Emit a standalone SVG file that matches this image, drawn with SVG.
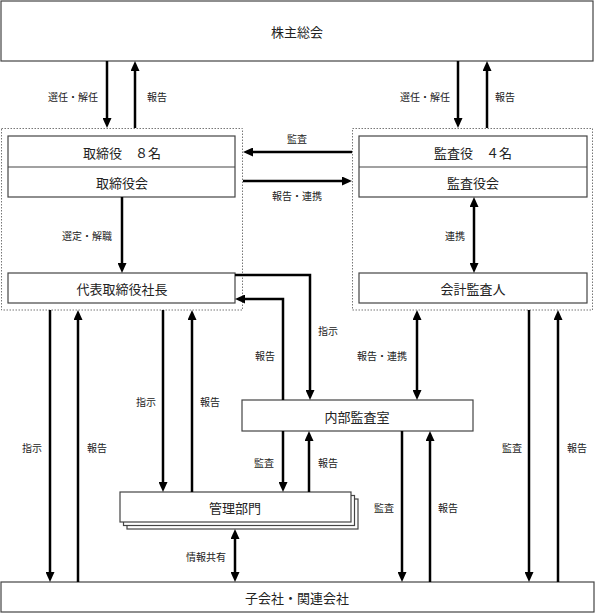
<svg xmlns="http://www.w3.org/2000/svg" width="595" height="613" viewBox="0 0 595 613">
<style>
.box{fill:#fff;stroke:#444;stroke-width:1.2}
.grp{fill:none;stroke:#777;stroke-width:1;stroke-dasharray:1.5,1.5}
.t{font-family:"Noto Sans CJK JP","Noto Sans CJK SC",sans-serif;font-size:13px;fill:#222;text-anchor:middle;dominant-baseline:central}
.s{font-family:"Noto Sans CJK JP","Noto Sans CJK SC",sans-serif;font-size:10px;fill:#222;text-anchor:middle;dominant-baseline:central}
.a{fill:none;stroke:#000;stroke-width:2.5;marker-end:url(#ah)}
.d{fill:none;stroke:#000;stroke-width:2.5;marker-end:url(#ah);marker-start:url(#ah)}
</style>
<defs>
<marker id="ah" markerUnits="userSpaceOnUse" viewBox="0 0 10 9" markerWidth="10" markerHeight="9" refX="3" refY="4.5" orient="auto-start-reverse">
<path d="M0,0 L10,4.5 L0,9 z" fill="#000"/>
</marker>
</defs>
<rect width="595" height="613" fill="#fff"/>

<g id="kabunushi">
<rect class="box" x="1" y="1" width="592" height="60"/>
<text class="t" x="297" y="31">株主総会</text>
</g>

<g id="torishimari-group">
<rect class="grp" x="1.5" y="128.5" width="241" height="181.5"/>
</g>
<g id="torishimari">
<rect class="box" x="8" y="136" width="227" height="61"/>
<line x1="8" y1="167" x2="235" y2="167" stroke="#444" stroke-width="1.2"/>
<text class="t" x="122" y="152">取締役　８名</text>
<text class="t" x="122" y="182">取締役会</text>
</g>
<g id="shacho">
<rect class="box" x="8" y="273" width="227" height="30"/>
<text class="t" x="122" y="288">代表取締役社長</text>
</g>

<g id="kansa-group">
<rect class="grp" x="352.5" y="128.5" width="240" height="181.5"/>
</g>
<g id="kansayaku">
<rect class="box" x="359" y="136" width="228" height="61"/>
<line x1="359" y1="167" x2="587" y2="167" stroke="#444" stroke-width="1.2"/>
<text class="t" x="473" y="152">監査役　４名</text>
<text class="t" x="473" y="182">監査役会</text>
</g>
<g id="kaikei">
<rect class="box" x="359" y="273" width="228" height="30"/>
<text class="t" x="473" y="288">会計監査人</text>
</g>

<g id="naibu">
<rect class="box" x="242" y="400" width="231" height="31"/>
<text class="t" x="357" y="416">内部監査室</text>
</g>

<g id="kanri">
<rect class="box" x="127" y="499" width="231" height="30"/>
<rect class="box" x="123.5" y="495.5" width="231" height="30"/>
<rect class="box" x="120" y="492" width="231" height="30"/>
<text class="t" x="235" y="507">管理部門</text>
</g>

<g id="kogaisha">
<rect class="box" x="1" y="582" width="593" height="30"/>
<text class="t" x="297" y="597">子会社・関連会社</text>
</g>

<g id="connectors">
<path class="a" d="M107,61 V121"/>
<path class="a" d="M135,128 V68"/>
<path class="a" d="M458,61 V121"/>
<path class="a" d="M487,128 V68"/>
<path class="a" d="M122,197 V266"/>
<path class="d" d="M474,204 V266"/>
<path class="a" d="M352,152 H250"/>
<path class="a" d="M243,181 H345"/>
<path class="a" d="M235,275 H310 V393"/>
<path class="a" d="M283,400 V299 H242"/>
<path class="d" d="M417,317 V393"/>
<path class="a" d="M283,431 V485"/>
<path class="a" d="M309,492 V438"/>
<path class="a" d="M402,431 V575"/>
<path class="a" d="M430,582 V438"/>
<path class="a" d="M50,310 V575"/>
<path class="a" d="M78,582 V317"/>
<path class="a" d="M163,310 V485"/>
<path class="a" d="M192,492 V317"/>
<path class="a" d="M529,310 V575"/>
<path class="a" d="M558,582 V317"/>
<path class="d" d="M235,536 V575"/>
</g>

<g id="labels">
<text class="s" x="73" y="96">選任・解任</text>
<text class="s" x="157" y="96">報告</text>
<text class="s" x="425" y="96">選任・解任</text>
<text class="s" x="505" y="96">報告</text>
<text class="s" x="297" y="138">監査</text>
<text class="s" x="297" y="195">報告・連携</text>
<text class="s" x="87" y="235">選定・解職</text>
<text class="s" x="455" y="235">連携</text>
<text class="s" x="328" y="330">指示</text>
<text class="s" x="265" y="355">報告</text>
<text class="s" x="382" y="355">報告・連携</text>
<text class="s" x="146" y="401">指示</text>
<text class="s" x="210" y="401">報告</text>
<text class="s" x="32" y="447">指示</text>
<text class="s" x="97" y="447">報告</text>
<text class="s" x="512" y="447">監査</text>
<text class="s" x="577" y="447">報告</text>
<text class="s" x="264" y="462">監査</text>
<text class="s" x="328" y="462">報告</text>
<text class="s" x="384" y="507">監査</text>
<text class="s" x="448" y="507">報告</text>
<text class="s" x="206" y="556">情報共有</text>
</g>
</svg>
